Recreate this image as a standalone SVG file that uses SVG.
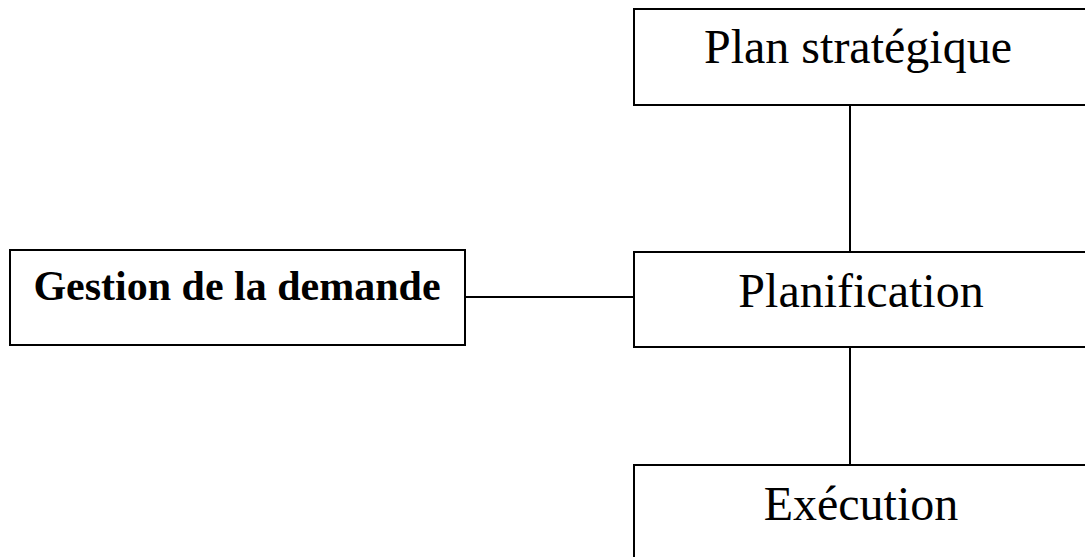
<svg xmlns="http://www.w3.org/2000/svg" width="1085" height="557" viewBox="0 0 1085 557">
  <style>
    .box { fill: #ffffff; stroke: #000000; stroke-width: 2; }
    .lbl { font-family: "Liberation Serif", "Times New Roman", serif; font-size: 48px; fill: #000000; text-anchor: middle; }
    .lbl-b { font-family: "Liberation Serif", "Times New Roman", serif; font-size: 42px; font-weight: bold; fill: #000000; text-anchor: middle; }
    .conn { stroke: #000000; stroke-width: 2; fill: none; }
  </style>
  <rect width="1085" height="557" fill="#ffffff"/>

  <!-- connectors -->
  <g id="connectors">
    <line class="conn" x1="850" y1="105" x2="850" y2="252"/>
    <line class="conn" x1="850" y1="347" x2="850" y2="465"/>
    <line class="conn" x1="465" y1="297" x2="634" y2="297"/>
  </g>

  <g id="plan-strategique">
    <rect class="box" x="634" y="9" width="460" height="96"/>
    <text class="lbl" x="858" y="63">Plan stratégique</text>
  </g>

  <g id="planification">
    <rect class="box" x="634" y="252" width="460" height="95"/>
    <text class="lbl" x="861" y="307">Planification</text>
  </g>

  <g id="execution">
    <rect class="box" x="634" y="465" width="460" height="100"/>
    <text class="lbl" x="861" y="520">Exécution</text>
  </g>

  <g id="gestion-demande">
    <rect class="box" x="10" y="250" width="455" height="95"/>
    <text class="lbl-b" x="237" y="300">Gestion de la demande</text>
  </g>
</svg>
